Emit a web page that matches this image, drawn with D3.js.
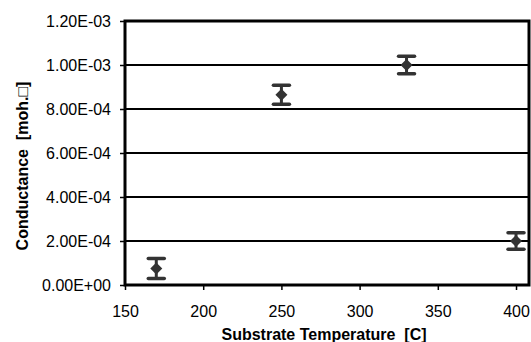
<!DOCTYPE html>
<html><head><meta charset="utf-8">
<script src="https://cdn.jsdelivr.net/npm/d3@7"></script>
<style>body{margin:0;background:#fff}svg{display:block}text{font-family:"Liberation Sans",Arial,sans-serif;white-space:pre}</style>
</head><body>
<svg id="c" width="531" height="342"></svg>
<script>
const temperatures = [170, 250, 330, 400];
const conductance = [7.5e-5, 8.65e-4, 1.0e-3, 2.0e-4];
const errors = [4.5e-5, 4.3e-5, 4.0e-5, 3.8e-5];
const yTicks = [0, 2e-4, 4e-4, 6e-4, 8e-4, 1.0e-3, 1.2e-3];
const xTicks = [150, 200, 250, 300, 350, 400];

const svg = d3.select("#c");
const L = 125, R = 529, T = 21, B = 285;
const x = d3.scaleLinear().domain([150, 408.3]).range([L, R]);
const y = d3.scaleLinear().domain([0, 1.2e-3]).range([B, T]);
const fmt = v => { const s = v.toExponential(2).toUpperCase(); return s.replace(/E([+-])(\d)$/, "E$10$2"); };

// gridlines
svg.append("g").selectAll("line").data(yTicks.filter(d => d > 0)).join("line")
  .attr("x1", L).attr("x2", R).attr("y1", d => y(d)).attr("y2", d => y(d))
  .attr("stroke", "#000").attr("stroke-width", 1.8);

// y axis
const ya = svg.append("g").attr("transform", `translate(${L},0)`)
  .call(d3.axisLeft(y).tickValues(yTicks).tickFormat(fmt).tickSize(5).tickPadding(9));
ya.select(".domain").remove();
ya.selectAll(".tick line").attr("stroke", "#000").attr("stroke-width", 1.5);
ya.selectAll("text").attr("font-size", 16).attr("fill", "#000").attr("font-family", "Liberation Sans, Arial, sans-serif");

// x axis
const xa = svg.append("g").attr("transform", `translate(0,${B})`)
  .call(d3.axisBottom(x).tickValues(xTicks).tickFormat(d3.format("d")).tickSize(5).tickPadding(16));
xa.select(".domain").remove();
xa.selectAll(".tick line").attr("stroke", "#000").attr("stroke-width", 1.5);
xa.selectAll("text").attr("font-size", 16).attr("fill", "#000").attr("font-family", "Liberation Sans, Arial, sans-serif");

// frame
svg.append("rect").attr("x", L).attr("y", T).attr("width", R - L).attr("height", B - T)
  .attr("fill", "none").attr("stroke", "#000").attr("stroke-width", 3);

// error bars
const eb = svg.append("g").selectAll("g").data(temperatures.map((t, i) => ({t, v: conductance[i], e: errors[i]}))).join("g");
eb.append("line").attr("x1", d => x(d.t)).attr("x2", d => x(d.t))
  .attr("y1", d => y(d.v + d.e)).attr("y2", d => y(d.v - d.e))
  .attr("stroke", "#333").attr("stroke-width", 3);
eb.append("line").attr("x1", d => x(d.t) - 8).attr("x2", d => x(d.t) + 8)
  .attr("y1", d => y(d.v + d.e)).attr("y2", d => y(d.v + d.e))
  .attr("stroke", "#333").attr("stroke-width", 3.5).attr("stroke-linecap", "round");
eb.append("line").attr("x1", d => x(d.t) - 8).attr("x2", d => x(d.t) + 8)
  .attr("y1", d => y(d.v - d.e)).attr("y2", d => y(d.v - d.e))
  .attr("stroke", "#333").attr("stroke-width", 3.5).attr("stroke-linecap", "round");
eb.append("path").attr("transform", d => `translate(${x(d.t)},${y(d.v)})`)
  .attr("d", "M0,-6L6,0L0,6L-6,0Z").attr("fill", "#333");

// titles
svg.append("text").attr("x", 324).attr("y", 340).attr("text-anchor", "middle")
  .attr("font-size", 16).attr("font-weight", "bold").text("Substrate Temperature  [C]");
svg.append("text").attr("transform", "translate(27.5,166) rotate(-90)").attr("text-anchor", "middle")
  .attr("font-size", 16).attr("font-weight", "bold").text("Conductance  [moh.\u25A1]");
</script>
</body></html>
